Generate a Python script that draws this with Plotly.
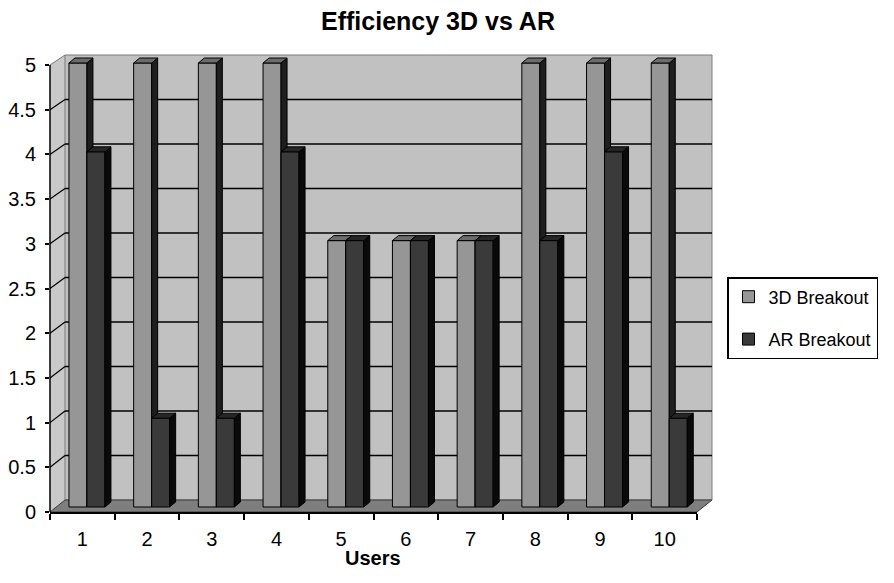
import plotly.graph_objects as go

# ---------------- data ----------------
users = [1, 2, 3, 4, 5, 6, 7, 8, 9, 10]
breakout_3d = [5, 5, 5, 5, 3, 3, 3, 5, 5, 5]
breakout_ar = [4, 1, 1, 4, 3, 3, 3, 3, 4, 1]
series_names = ["3D Breakout", "AR Breakout"]
y_ticks = [0, 0.5, 1, 1.5, 2, 2.5, 3, 3.5, 4, 4.5, 5]
grid_vals = [0.5, 1, 1.5, 2, 2.5, 3, 3.5, 4, 4.5]

# ---------------- geometry (pixels) ----------------
W, H = 894, 583
L, R = 50, 697          # front x-axis extent
T, B = 54, 512          # plot area top / front floor line
front_ppu = 89.4        # px per unit, front (tick) plane
bar_base, bar_ppu = 507, 88.8
back_base, back_ppu = 500, 89.0
wall_dx = 15            # depth of walls (px)
bar_dx, bar_dy = 6, 5   # depth of bars (px)

ux = (R - L) / len(users)           # px per category
bar_w = 18 / ux
off_3d = -13.4 / ux
off_ar = off_3d + bar_w
ddx = bar_dx / ux
ddy = bar_dy / bar_ppu

def pxx(p):
    return (p - L) / (R - L)

def pxy(p):
    return (B - p) / (B - T)

def back_y(v):
    return back_base - back_ppu * v

def front_y(v):
    return B - front_ppu * v

c_back = "#c1c1c1"
c_side = "#c9c9c9"
c_floor = "#7e7e7e"
c_edge = "#7a7a7a"

fig = go.Figure()

# front (tick) plane subplot: empty trace so the labelled axes are drawn
fig.add_trace(go.Scatter(x=[], y=[], xaxis="x", yaxis="y", showlegend=False,
                         hoverinfo="skip"))

def faces(values, off, xa, ya, side_col, top_col):
    sx, sy, tx, ty = [], [], [], []
    for c, v in zip(users, values):
        xl = c + off
        xr = xl + bar_w
        sx += [xr, xr + ddx, xr + ddx, xr, xr, None]
        sy += [0, ddy, v + ddy, v, 0, None]
        tx += [xl, xl + ddx, xr + ddx, xr, xl, None]
        ty += [v, v + ddy, v + ddy, v, v, None]
    for X, Y, col in ((sx, sy, side_col), (tx, ty, top_col)):
        fig.add_trace(go.Scatter(x=X, y=Y, mode="lines", fill="toself",
                                 fillcolor=col, line=dict(color="#000000", width=1),
                                 xaxis=xa, yaxis=ya, showlegend=False,
                                 hoverinfo="skip"))

# light series
fig.add_trace(go.Bar(x=users, y=breakout_3d, name=series_names[0],
                     width=bar_w, offset=off_3d,
                     marker=dict(color="#969696", line=dict(color="#000000", width=1)),
                     xaxis="x2", yaxis="y2", legendgroup="a"))
faces(breakout_3d, off_3d, "x2", "y2", "#1e1e1e", "#6c6c6c")

# dark series (overlay subplot, drawn above)
fig.add_trace(go.Bar(x=users, y=breakout_ar, name=series_names[1],
                     width=bar_w, offset=off_ar,
                     marker=dict(color="#3a3a3a", line=dict(color="#000000", width=1)),
                     xaxis="x3", yaxis="y3", legendgroup="b"))
faces(breakout_ar, off_ar, "x3", "y3", "#0a0a0a", "#262626")

# ---------------- walls ----------------
shapes = []
bx0, bx1 = pxx(L + wall_dx), pxx(R + wall_dx)
shapes.append(dict(type="path", xref="paper", yref="paper", layer="below",
                   path=f"M 0,{pxy(front_y(0))} L {bx0},{pxy(back_y(0))} "
                        f"L {bx0},{pxy(back_y(5))} L 0,{pxy(front_y(5))} Z",
                   fillcolor=c_side, line=dict(width=0)))
shapes.append(dict(type="rect", xref="paper", yref="paper", layer="below",
                   x0=bx0, x1=bx1, y0=pxy(back_y(0)), y1=pxy(back_y(5)),
                   fillcolor=c_back, line=dict(color=c_edge, width=1)))
shapes.append(dict(type="path", xref="paper", yref="paper", layer="below",
                   path=f"M 0,{pxy(front_y(0))} L 1,{pxy(front_y(0))} "
                        f"L {bx1},{pxy(back_y(0))} L {bx0},{pxy(back_y(0))} Z",
                   fillcolor=c_floor, line=dict(color="#3a3a3a", width=1)))
for v in grid_vals:
    shapes.append(dict(type="line", xref="paper", yref="paper", layer="below",
                       x0=bx0, x1=bx1, y0=pxy(back_y(v)), y1=pxy(back_y(v)),
                       line=dict(color="#000000", width=1.5)))
    shapes.append(dict(type="line", xref="paper", yref="paper", layer="below",
                       x0=0, x1=bx0, y0=pxy(front_y(v)), y1=pxy(back_y(v)),
                       line=dict(color="#000000", width=1.2)))
shapes.append(dict(type="line", xref="paper", yref="paper", layer="below",
                   x0=0, x1=bx0, y0=pxy(front_y(5)), y1=pxy(back_y(5)),
                   line=dict(color=c_edge, width=1)))
shapes.append(dict(type="line", xref="paper", yref="paper", layer="above",
                   x0=0, x1=0, y0=pxy(front_y(0)), y1=pxy(front_y(5)),
                   line=dict(color="#000000", width=1.5)))

FAM = "Liberation Sans, Arial, sans-serif"
bar_range = [-(B - bar_base) / bar_ppu, (bar_base - T) / bar_ppu]
x_range = [0.5, len(users) + 0.5]

fig.update_layout(
    width=W, height=H,
    margin=dict(l=L, r=W - R, t=T, b=H - B, pad=0, autoexpand=False),
    paper_bgcolor="#ffffff", plot_bgcolor="rgba(0,0,0,0)",
    showlegend=True,
    barmode="overlay",
    shapes=shapes,
    title=dict(text="Efficiency 3D vs AR", x=438 / W, xref="container",
               xanchor="center", y=1 - 21 / H, yref="container", yanchor="middle",
               font=dict(family=FAM, size=25, color="#000000", weight="bold")),
    xaxis=dict(domain=[0, 1], range=x_range, automargin=False,
               tickmode="array", tickvals=users, ticktext=[str(u) for u in users],
               ticks="", showgrid=False, zeroline=False,
               showline=True, linecolor="#000000", linewidth=1.5,
               minor=dict(tickmode="array",
                          tickvals=[u - 0.5 for u in users] + [users[-1] + 0.5],
                          ticks="outside", ticklen=6, tickwidth=1.5,
                          tickcolor="#000000", showgrid=False),
               ticklabelstandoff=8,
               tickfont=dict(family=FAM, size=20, color="#000000"), fixedrange=True),
    yaxis=dict(domain=[0, 1], range=[0, (B - T) / front_ppu], automargin=False,
               tickmode="array", tickvals=y_ticks,
               ticktext=[f"{v:g}" for v in y_ticks],
               ticks="outside", ticklen=4, tickwidth=1.5, tickcolor="#000000",
               showgrid=False, zeroline=False, showline=False,
               ticklabelstandoff=5,
               tickfont=dict(family=FAM, size=20, color="#000000"), fixedrange=True),
    xaxis2=dict(overlaying="x", range=x_range, visible=False),
    yaxis2=dict(overlaying="y", range=bar_range, visible=False),
    xaxis3=dict(overlaying="x", range=x_range, visible=False),
    yaxis3=dict(overlaying="y", range=bar_range, visible=False),
    legend=dict(x=pxx(727), y=pxy(277), xanchor="left", yanchor="top",
                xref="paper", yref="paper",
                bordercolor="#000000", borderwidth=1.5, bgcolor="#ffffff",
                traceorder="grouped", tracegroupgap=16,
                font=dict(family=FAM, size=18, color="#000000")),
    annotations=[dict(text="<b>Users</b>", xref="paper", yref="paper",
                      x=pxx(373), y=pxy(558), xanchor="center", yanchor="middle",
                      showarrow=False,
                      font=dict(family=FAM, size=20, color="#000000"))],
)

fig.write_html("out.html")
